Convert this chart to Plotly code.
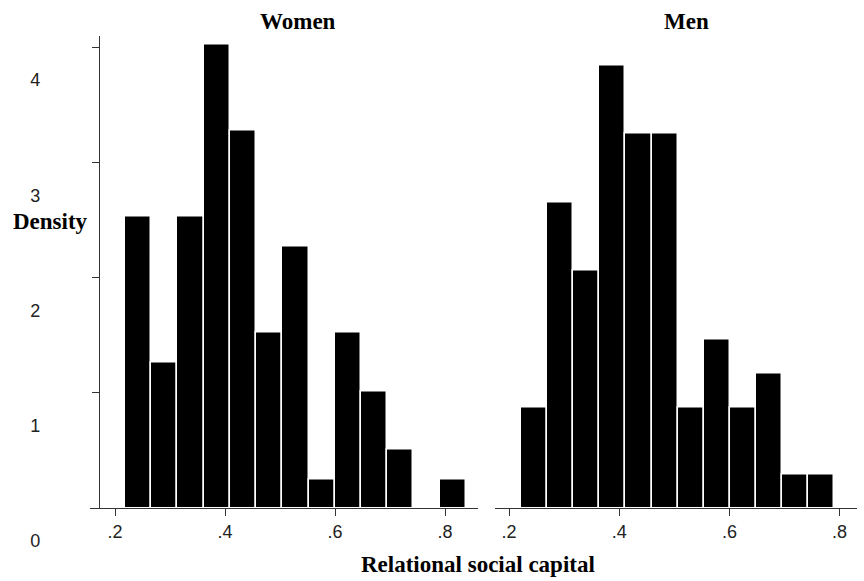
import plotly.graph_objects as go

# ---- data ----
women_bin_start = 0.218
women_bin_width = 0.0477
women_density = [2.53, 1.26, 2.53, 4.02, 3.28, 1.52, 2.27, 0.25, 1.52, 1.01, 0.51, 0.0, 0.25]

men_bin_start = 0.2218
men_bin_width = 0.0474
men_density = [0.87, 2.65, 2.06, 3.84, 3.25, 3.25, 0.87, 1.46, 0.87, 1.17, 0.29, 0.29]

x_tickvals = [0.2, 0.4, 0.6, 0.8]
x_ticktext = [".2", ".4", ".6", ".8"]
y_tickvals = [0, 1, 2, 3, 4]
y_ticktext = ["0", "1", "2", "3", "4"]

panel_titles = ["Women", "Men"]
x_title = "Relational social capital"
y_title = "Density"

W, H = 864, 581


def px_x(p):
    return p / W


def px_y(p):
    return (H - p) / H


women_x = [women_bin_start + women_bin_width * (i + 0.5) for i in range(len(women_density))]
men_x = [men_bin_start + men_bin_width * (i + 0.5) for i in range(len(men_density))]

fig = go.Figure()
fig.add_trace(go.Bar(x=women_x, y=women_density, width=women_bin_width,
                     marker=dict(color="black", line=dict(color="white", width=1.5)),
                     xaxis="x", yaxis="y", showlegend=False))
fig.add_trace(go.Bar(x=men_x, y=men_density, width=men_bin_width,
                     marker=dict(color="black", line=dict(color="white", width=1.5)),
                     xaxis="x2", yaxis="y2", showlegend=False))

tickfont = dict(family="Liberation Sans, Arial, sans-serif", size=18, color="#222")
serif_bold = dict(family="Liberation Serif, Times New Roman, serif", size=23, color="black")

ydom = [px_y(508), px_y(35.5)]
yrange = [0, 4.1]

common_x = dict(showgrid=False, zeroline=False, showline=True, linecolor="#333", linewidth=1.2,
                ticks="outside", ticklen=7, tickcolor="#333", tickwidth=1.2,
                tickvals=x_tickvals, ticktext=x_ticktext, tickfont=tickfont,
                ticklabelstandoff=0, automargin=False)

fig.update_layout(
    width=W, height=H,
    margin=dict(l=0, r=0, t=0, b=0, pad=0, autoexpand=False),
    paper_bgcolor="white", plot_bgcolor="white",
    bargap=0,
    xaxis=dict(domain=[px_x(90), px_x(478)], range=[0.1545, 0.86], anchor="y", **common_x),
    xaxis2=dict(domain=[px_x(495), px_x(857)], range=[0.1746, 0.8316], anchor="y2", **common_x),
    yaxis=dict(domain=ydom, range=yrange, anchor="free", position=px_x(99),
               showgrid=False, zeroline=False, showline=True, linecolor="#333", linewidth=1.2,
               ticks="outside", ticklen=7, tickcolor="#333", tickwidth=1.2,
               tickvals=y_tickvals, ticktext=y_ticktext, tickfont=tickfont,
               ticklabelstandoff=48, ticklabelshift=33, automargin=False),
    yaxis2=dict(domain=ydom, range=yrange, anchor="x2", visible=False, automargin=False),
)

annotations = [
    dict(text="<b>%s</b>" % panel_titles[0], x=px_x(298), y=px_y(22), xref="paper", yref="paper",
         xanchor="center", yanchor="middle", showarrow=False, font=serif_bold),
    dict(text="<b>%s</b>" % panel_titles[1], x=px_x(686), y=px_y(22), xref="paper", yref="paper",
         xanchor="center", yanchor="middle", showarrow=False, font=serif_bold),
    dict(text="<b>%s</b>" % x_title, x=px_x(478), y=px_y(564), xref="paper", yref="paper",
         xanchor="center", yanchor="middle", showarrow=False, font=serif_bold),
    dict(text="<b>%s</b>" % y_title, x=px_x(11), y=px_y(222), xref="paper", yref="paper",
         xanchor="left", yanchor="middle", showarrow=False, font=serif_bold),
]
fig.update_layout(annotations=annotations)

fig.write_html("out.html",
               config={"displayModeBar": False},
               post_script="document.body.style.margin='0';document.body.style.overflow='hidden';")
